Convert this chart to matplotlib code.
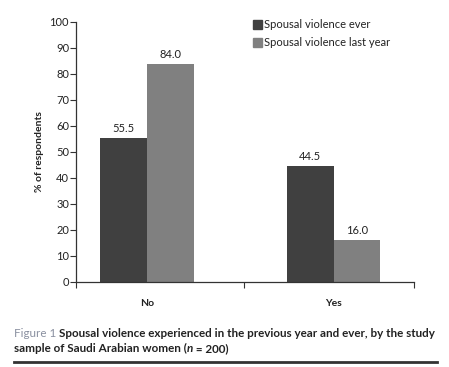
import numpy as np
import matplotlib.pyplot as plt
from matplotlib.patches import Rectangle
from matplotlib.lines import Line2D

categories = ['No', 'Yes']
ever = [55.5, 44.5]
last_year = [84.0, 16.0]
series_names = ['Spousal violence ever', 'Spousal violence last year']
yticks = list(range(0, 101, 10))

dark = '#404040'
light = '#808080'
plt.rcParams['font.family'] = ['Lato', 'DejaVu Sans']

fig = plt.figure(figsize=(4.49, 3.67), dpi=100)
ax = fig.add_axes([76 / 449, 1 - 282 / 367, (414 - 76) / 449, (282 - 22) / 367])

x = np.arange(len(categories))
w = 0.25
ax.bar(x - w / 2, ever, w, color=dark)
ax.bar(x + w / 2, last_year, w, color=light)
for xi, v in zip(x - w / 2, ever):
    ax.text(xi, v + 1.5, f'{v:.1f}', ha='center', va='bottom', fontsize=8, color='#222222')
for xi, v in zip(x + w / 2, last_year):
    ax.text(xi, v + 1.5, f'{v:.1f}', ha='center', va='bottom', fontsize=8, color='#222222')

ax.set_xlim(-0.38, 1.43)
ax.set_ylim(0, 100)
ax.set_yticks(yticks)
ax.set_yticklabels([str(t) for t in yticks], fontsize=8, color='#222222')
ax.set_xticks(x)
ax.set_xticklabels(categories, fontsize=7.5, color='#222222', fontweight='bold')
ax.tick_params(axis='x', length=0, pad=12)
ax.tick_params(axis='y', length=4, width=0.8, pad=1, color='#333333')
ax.set_xticks([-0.38, 0.52, 1.43], minor=True)
ax.tick_params(axis='x', which='minor', length=4, width=0.8, color='#333333', direction='out')
for s in ['top', 'right']:
    ax.spines[s].set_visible(False)
for s in ['left', 'bottom']:
    ax.spines[s].set_color('#333333')
    ax.spines[s].set_linewidth(0.9)
ax.set_ylabel('% of respondents', fontsize=7.5, fontweight='bold', color='#222222', labelpad=4)

# legend
for i, (name, c) in enumerate(zip(series_names, [dark, light])):
    yy = 1 - (25 + i * 18) / 367
    fig.patches.append(Rectangle((253 / 449, yy - 4 / 367), 9 / 449, 9 / 367,
                                 transform=fig.transFigure, color=c))
    fig.text(264 / 449, yy, name, fontsize=8, va='center', color='#222222')

# caption
fig.canvas.draw()
r = fig.canvas.get_renderer()


def seq(pieces, x0, y0):
    xx = x0
    for s, kw in pieces:
        t = fig.text(xx, y0, s, fontsize=8.4, va='baseline', **kw)
        bb = t.get_window_extent(renderer=r)
        xx += bb.width / fig.bbox.width


bold = dict(fontweight='bold', color='#222222')
seq([('Figure 1 ', dict(color='#8a90a0')),
     ('Spousal violence experienced in the previous year and ever, by the study', bold)],
    14 / 449, 1 - 337 / 367)
seq([('sample of Saudi Arabian women (', bold), ('n', dict(fontweight='bold', style='italic', color='#222222')),
     (' = 200)', bold)], 14 / 449, 1 - 352 / 367)
fig.lines.append(Line2D([14 / 449, 437 / 449], [1 - 362 / 367] * 2, transform=fig.transFigure,
                        color='#333333', linewidth=2))

fig.savefig('out.png', dpi=100)
